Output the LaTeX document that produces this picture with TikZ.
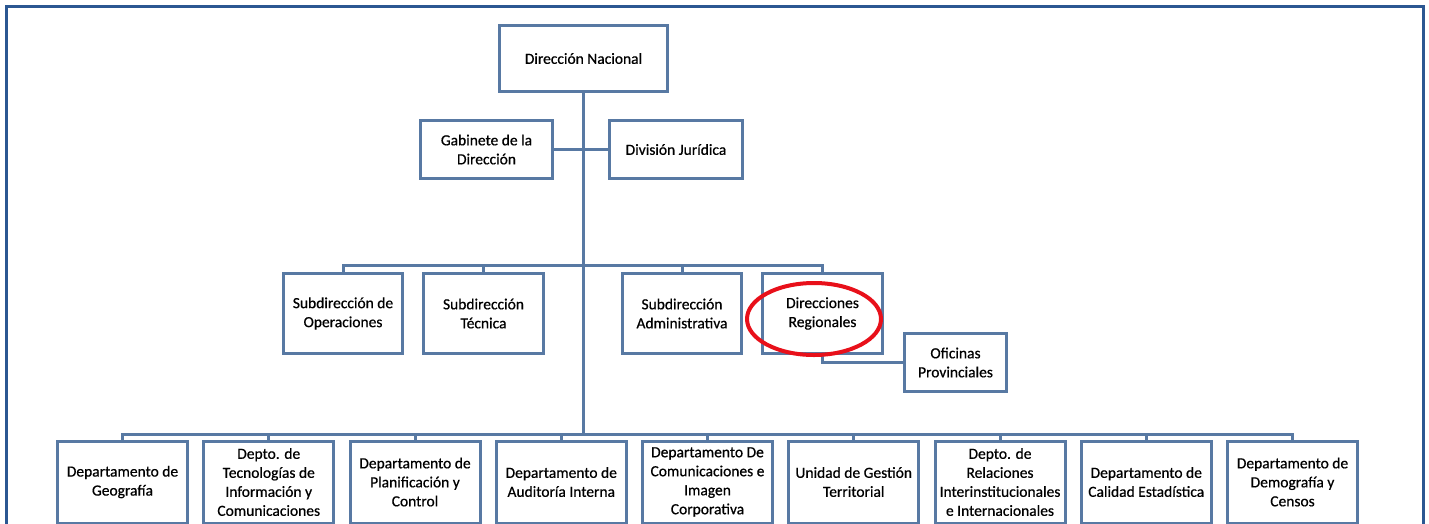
\documentclass[tikz,border=0pt]{standalone}
\usepackage{fontspec}
\setmainfont{Carlito}[FakeBold=0.6]
\definecolor{boxblue}{HTML}{5879A3}
\definecolor{frameblue}{HTML}{2B5792}
\definecolor{markred}{HTML}{E8101A}
\tikzset{
  unit/.style={draw=boxblue, line width=3pt, fill=white, align=center, inner sep=1pt,
    font=\fontsize{15.5}{19}\selectfont},
  link/.style={draw=boxblue, line width=3pt},
}

\begin{document}
\begin{tikzpicture}[x=1pt,y=-1pt]
        \clip (0,0) rectangle (1429,523);
        \fill[white] (0,0) rectangle (1429,523);
        \draw[frameblue, line width=3pt] (6,530) -- (6,6) -- (1423,6) -- (1423,530);

        \pgfmathsetmacro{\rowy}{482}
        \pgfmathsetmacro{\pitch}{146.25}

        \node[unit, minimum width=168pt, minimum height=66pt] (nac) at (583.5,58.5) {Dirección Nacional};
        \node[unit, minimum width=132pt, minimum height=58pt] (gab) at (486.5,149.5) {Gabinete de la\\Dirección};
        \node[unit, minimum width=133pt, minimum height=58pt] (jur) at (676,149.5) {División Jurídica};

        \node[unit, minimum width=119pt, minimum height=80pt] (ope) at (343,313.5) {Subdirección de\\Operaciones};
        \node[unit, minimum width=120pt, minimum height=80pt] (tec) at (483.5,313.5) {Subdirección\\Técnica};
        \node[unit, minimum width=119pt, minimum height=80pt] (adm) at (682,313.5) {Subdirección\\Administrativa};
        \node[unit, minimum width=120pt, minimum height=80pt] (reg) at (822.5,313.5) {Direcciones\\Regionales};
        \node[unit, minimum width=102pt, minimum height=58pt] (ofi) at (955.5,362.5) {Oficinas\\Provinciales};

        \foreach \n/\t [count=\i from 0] in {
            geo/{Departamento de\\Geografía},
            tic/{Depto. de\\Tecnologías de\\Información y\\Comunicaciones},
            pla/{Departamento de\\Planificación y\\Control},
            aud/{Departamento de\\Auditoría Interna},
            com/{Departamento De\\Comunicaciones e\\Imagen\\Corporativa},
            ges/{Unidad de Gestión\\Territorial},
            rel/{Depto. de\\Relaciones\\Interinstitucionales\\e Internacionales},
            cal/{Departamento de\\Calidad Estadística},
            dem/{Departamento de\\Demografía y\\Censos}}
            \node[unit, minimum width=130pt, minimum height=82pt] (\n) at (122.5+\i*\pitch,\rowy) {\t};

        \coordinate (bar1) at (583.5,265);
        \coordinate (bar2) at (583.5,434);

        \draw[link] (nac.south) -- (bar2);
        \draw[link] (gab.east) -- (jur.west);
        \draw[link] (ope.north) |- (bar1) -| (reg.north);
        \draw[link] (tec.north) -- (tec.north |- bar1);
        \draw[link] (adm.north) -- (adm.north |- bar1);
        \draw[link] (reg.south) |- (ofi.west);
        \draw[link] (geo.north) |- (bar2) -| (dem.north);
        \foreach \n in {tic,pla,aud,com,ges,rel,cal}
            \draw[link] (\n.north) -- (\n.north |- bar2);

        \draw[markred, line width=4pt] (814,319) ellipse [x radius=67pt, y radius=36pt];
\end{tikzpicture}
\end{document}
